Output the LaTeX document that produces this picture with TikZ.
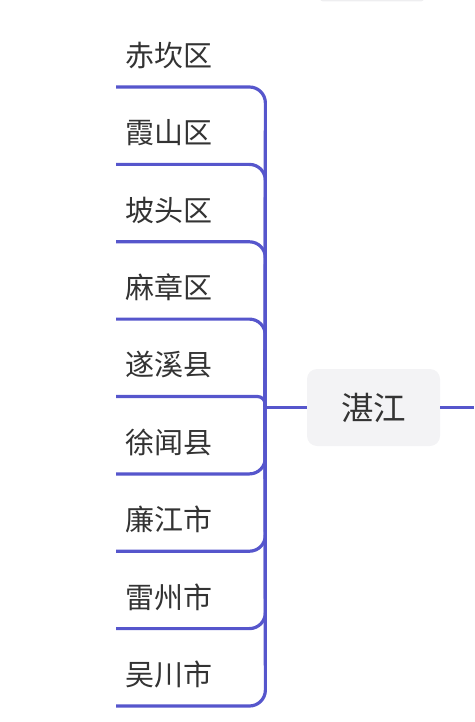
\documentclass[tikz,border=0pt]{standalone}
\usepackage{fontspec}
\setmainfont{Noto Sans CJK SC}
\definecolor{branchc}{RGB}{86,86,204}
\definecolor{rootfill}{RGB}{243,243,245}
\definecolor{txt}{RGB}{51,51,51}
\definecolor{faint}{RGB}{238,238,240}
\begin{document}
\begin{tikzpicture}[x=1pt,y=-1pt,
  childbox/.style={anchor=south west, minimum width=149pt, minimum height=63pt,
    inner xsep=9pt, inner ysep=0pt, text width=131pt, align=left,
    font=\fontsize{29}{33}\selectfont, text=txt},
  rootbox/.style={fill=rootfill, rounded corners=10pt, minimum width=133pt,
    minimum height=77pt, inner sep=0pt, font=\fontsize{32.5}{37}\selectfont, text=txt},
  branch/.style={draw=branchc, line width=3.2pt, rounded corners=16pt},
  nearbranch/.style={draw=branchc, line width=3.2pt, rounded corners=8pt}]
\useasboundingbox (0,0) rectangle (474,722);
\fill[faint, rounded corners=3pt] (320,-6) rectangle (424,1.5);
\node[rootbox] (root) at (373.5,407.5) {湛江};
\coordinate (junc) at (265,407.5);
\coordinate (rend) at (474,407.5);
\node[childbox] (c1) at (116,87) {赤坎区};
\node[childbox] (c2) at (116,164.4) {霞山区};
\node[childbox] (c3) at (116,241.8) {坡头区};
\node[childbox] (c4) at (116,319.1) {麻章区};
\node[childbox] (c5) at (116,396.5) {遂溪县};
\node[childbox] (c6) at (116,473.9) {徐闻县};
\node[childbox] (c7) at (116,551.2) {廉江市};
\node[childbox] (c8) at (116,628.6) {雷州市};
\node[childbox] (c9) at (116,706) {吴川市};
\foreach \c in {c1,c2,c3,c4,c6,c7,c8,c9}{
  \draw[branch] (\c.south west) -- (\c.south east) -- (junc);
}
\draw[nearbranch] (c5.south west) -- (c5.south east) -- (junc);
\draw[branchc, line width=3.2pt] (junc) -- (root.west);
\draw[branchc, line width=3.2pt] (root.east) -- (rend);
\end{tikzpicture}
\end{document}
